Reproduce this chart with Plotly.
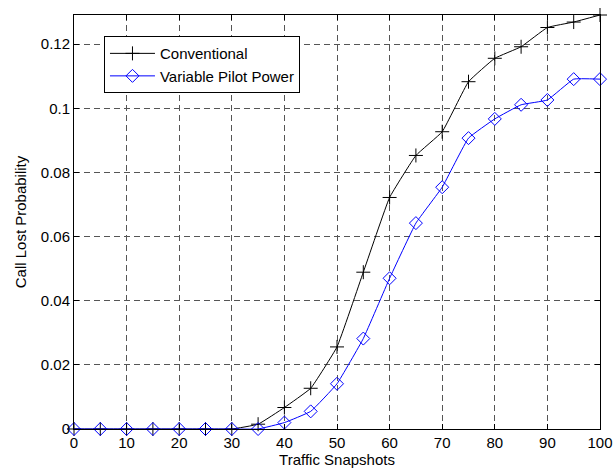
import plotly.graph_objects as go

snapshots = [0, 5, 10, 15, 20, 25, 30, 35, 40, 45, 50, 55, 60, 65, 70, 75, 80, 85, 90, 95, 100]
conventional = [0, 0, 0, 0, 0, 0, 0, 0.0015, 0.0067, 0.0127, 0.0256, 0.0489, 0.0722, 0.0853,
                0.0927, 0.1083, 0.1156, 0.1192, 0.1252, 0.1269, 0.1291]
variable_pilot = [0, 0, 0, 0, 0, 0, 0, 0, 0.0020, 0.0055, 0.0141, 0.0282, 0.0470, 0.0642,
                  0.0754, 0.0907, 0.0967, 0.1011, 0.1026, 0.1091, 0.1091]
x_ticks = [0, 10, 20, 30, 40, 50, 60, 70, 80, 90, 100]
y_ticks = [0, 0.02, 0.04, 0.06, 0.08, 0.1, 0.12]
y_tick_labels = ["0", "0.02", "0.04", "0.06", "0.08", "0.1", "0.12"]

FONT = "Liberation Sans, Arial, sans-serif"

fig = go.Figure()
fig.add_trace(go.Scatter(
    x=snapshots, y=conventional, name="Conventional", mode="lines+markers",
    line=dict(color="black", width=1, shape="spline", smoothing=0.3),
    marker=dict(symbol="cross-thin-open", size=10, line=dict(color="black", width=1)),
    cliponaxis=False,
))
fig.add_trace(go.Scatter(
    x=snapshots, y=variable_pilot, name="Variable Pilot Power", mode="lines+markers",
    line=dict(color="#0000ff", width=1, shape="spline", smoothing=0.3),
    marker=dict(symbol="diamond-open", size=10, color="#0000ff", line=dict(color="#0000ff", width=1)),
    cliponaxis=False,
))

axis_common = dict(
    showline=True, linecolor="black", linewidth=1, mirror="allticks",
    ticks="inside", ticklen=5, tickcolor="black",
    showgrid=True, gridcolor="#555555", griddash="6px,4px", gridwidth=1,
    zeroline=False, tickfont=dict(family=FONT, size=15, color="black"),
)

fig.update_xaxes(range=[0, 100], tickvals=x_ticks, ticktext=[str(v) for v in x_ticks],
                 title=dict(text="Traffic Snapshots", font=dict(family=FONT, size=15, color="black"), standoff=2),
                 **axis_common)
fig.update_yaxes(range=[0, 0.1291], tickvals=y_ticks, ticktext=y_tick_labels,
                 title=dict(text="Call Lost Probability", font=dict(family=FONT, size=15, color="black"), standoff=10),
                 **axis_common)

fig.update_layout(
    width=616, height=473,
    margin=dict(l=74, r=16, t=15, b=44, autoexpand=False),
    paper_bgcolor="white", plot_bgcolor="white",
    font=dict(family=FONT, size=15, color="black"),
    legend=dict(x=0.057, y=0.949, xanchor="left", yanchor="top",
                bgcolor="white", bordercolor="black", borderwidth=1,
                font=dict(family=FONT, size=15, color="black"),
                tracegroupgap=0, itemwidth=45),
    showlegend=True,
)

fig.write_html("out.html", config={"displayModeBar": False},
               post_script="document.body.style.margin='0';document.body.style.overflow='hidden';")
